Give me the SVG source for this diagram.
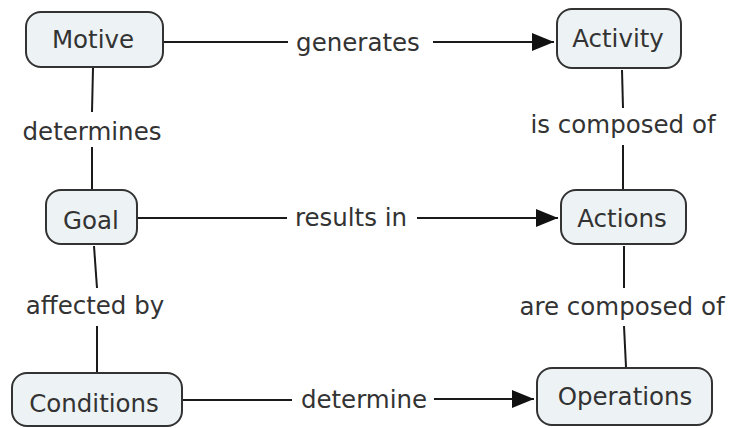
<svg xmlns="http://www.w3.org/2000/svg" width="731" height="428" viewBox="0 0 731 428">
<style>
.node rect{fill:#edf2f4;stroke:#333;stroke-width:2}
text{font-family:"DejaVu Sans",Verdana,sans-serif;font-size:24.5px;fill:#333;text-anchor:middle}
.conn line{stroke:#1a1a1a;stroke-width:2;fill:none}
</style>
<defs>
<marker id="arr" markerUnits="userSpaceOnUse" markerWidth="24" markerHeight="20" refX="22" refY="10" orient="auto">
<path d="M0,1 L22,10 L0,19 Z" fill="#111"/>
</marker>
</defs>
<rect width="731" height="428" fill="#fff"/>
<g id="connectors" class="conn">
<line x1="164" y1="42" x2="288" y2="42"/>
<line x1="433" y1="42" x2="554" y2="42" marker-end="url(#arr)"/>
<line x1="138" y1="218" x2="287" y2="218"/>
<line x1="417" y1="218" x2="558" y2="218" marker-end="url(#arr)"/>
<line x1="183" y1="400" x2="292" y2="400"/>
<line x1="434" y1="399" x2="534" y2="399" marker-end="url(#arr)"/>
<line x1="93" y1="68" x2="92" y2="112"/>
<line x1="92" y1="147" x2="92" y2="189"/>
<line x1="94" y1="246" x2="97" y2="288"/>
<line x1="97" y1="326" x2="97" y2="372"/>
<line x1="622" y1="70" x2="623" y2="108"/>
<line x1="623" y1="145" x2="623" y2="189"/>
<line x1="624" y1="246" x2="624" y2="288"/>
<line x1="624" y1="326" x2="626" y2="367"/>
</g>
<g id="labels">
<text x="358" y="51">generates</text>
<text x="351" y="226">results in</text>
<text x="364" y="408">determine</text>
<text x="92" y="140">determines</text>
<text x="95" y="314">affected by</text>
<text x="623" y="133">is composed of</text>
<text x="622" y="315">are composed of</text>
</g>
<g id="motive" class="node"><rect x="26" y="12" width="137" height="55" rx="15"/><text x="93" y="48">Motive</text></g>
<g id="activity" class="node"><rect x="557" y="9" width="124" height="59" rx="15"/><text x="618" y="47">Activity</text></g>
<g id="goal" class="node"><rect x="46" y="190" width="91" height="54" rx="15"/><text x="91" y="229">Goal</text></g>
<g id="actions" class="node"><rect x="561" y="190" width="125" height="54" rx="15"/><text x="622" y="227">Actions</text></g>
<g id="conditions" class="node"><rect x="12" y="373" width="170" height="53" rx="15"/><text x="94" y="412">Conditions</text></g>
<g id="operations" class="node"><rect x="537" y="368" width="175" height="57" rx="15"/><text x="625" y="405">Operations</text></g>
</svg>
